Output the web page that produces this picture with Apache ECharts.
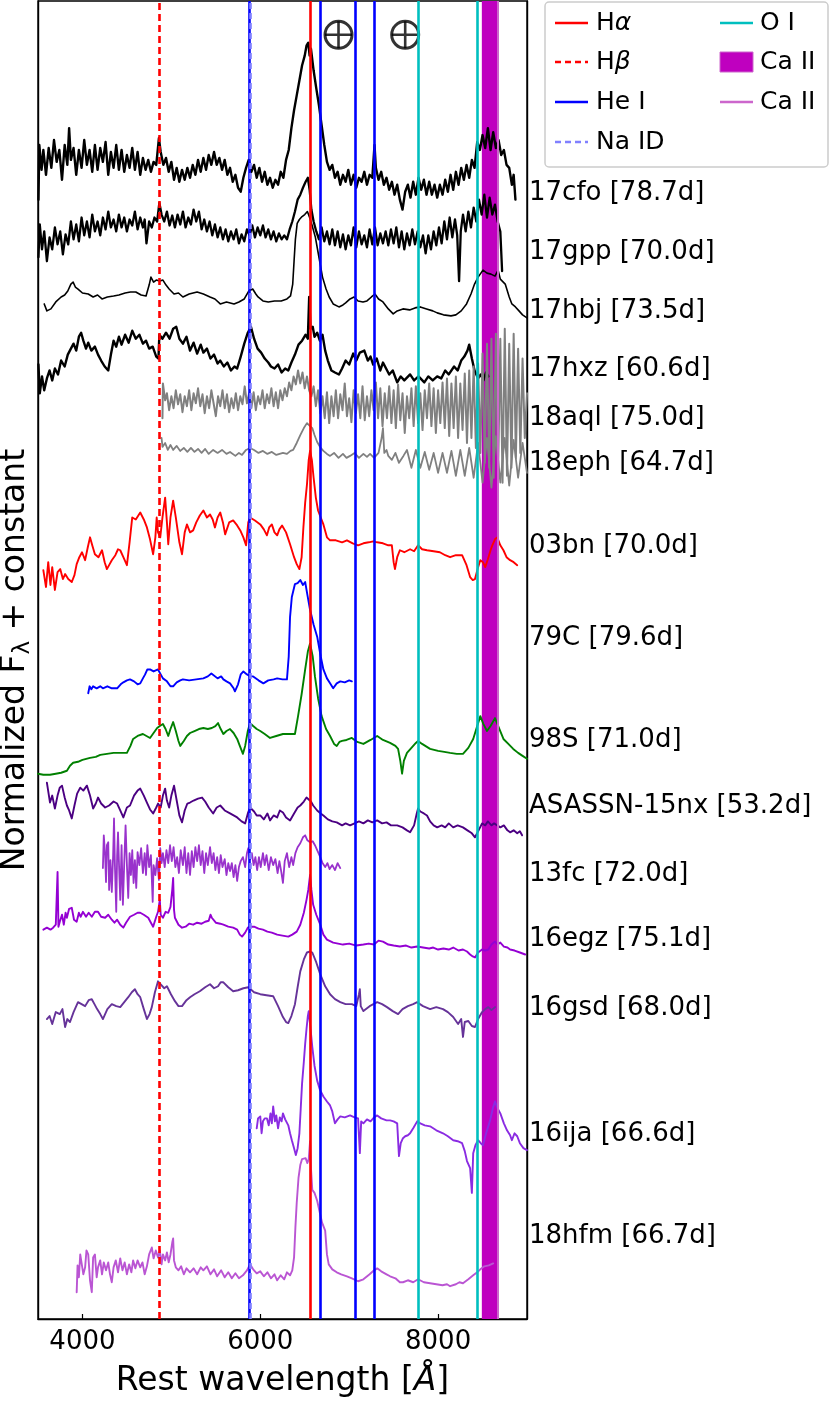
<!DOCTYPE html>
<html>
<head>
<meta charset="utf-8">
<script src="https://cdn.jsdelivr.net/npm/echarts@6.0.0/dist/echarts.min.js"></script>
<style>
  html, body { margin: 0; padding: 0; background: #fff; }
  #chart { width: 830px; height: 1403px; }
</style>
</head>
<body>
<div id="chart"></div>
<script>
// x ticks and the labels on the right (offset of each spectrum)
var xTicks = [4000, 6000, 8000];
var labelNames = ['17cfo [78.7d]', '17gpp [70.0d]', '17hbj [73.5d]', '17hxz [60.6d]', '18aql [75.0d]', '18eph [64.7d]',
  '03bn [70.0d]', '79C [79.6d]', '98S [71.0d]', 'ASASSN-15nx [53.2d]', '13fc [72.0d]', '16egz [75.1d]',
  '16gsd [68.0d]', '16ija [66.6d]', '18hfm [66.7d]'];
var labelPos = [11.33, 10.74, 10.15, 9.56, 9.07, 8.62, 7.78, 6.85, 5.83, 5.16, 4.48, 3.82, 3.13, 1.86, 0.83];

// line identifications (rest wavelength, A)
var lineHa = [6563];
var lineHb = [4861];
var lineHeI = [5876, 6678, 7065, 7281];
var lineNaD = [5890];
var lineOI = [7774, 8446];
var bandCaII = [8492, 8668];
var lineCaII = [8670];
var telluric = [[6880, 12.93], [7630, 12.93]];

// spectra: [wavelength, normalized flux + constant]
var sn17cfo = [[3505,11.27],[3515,11.82],[3540,11.57],[3560,11.77],[3590,11.52],[3620,11.79],[3650,11.59],[3680,11.87],[3710,11.65],[3740,11.77],[3770,11.47],[3800,11.82],[3830,11.62],[3850,11.99],[3870,11.67],[3900,11.79],[3930,11.52],[3960,11.77],[3990,11.59],[4020,11.87],[4050,11.62],[4080,11.77],[4110,11.55],[4140,11.82],[4170,11.57],[4200,11.79],[4230,11.65],[4260,11.85],[4290,11.52],[4320,11.75],[4350,11.59],[4380,11.82],[4410,11.57],[4440,11.77],[4470,11.55],[4500,11.72],[4530,11.59],[4560,11.79],[4590,11.57],[4620,11.75],[4650,11.52],[4680,11.69],[4710,11.57],[4740,11.67],[4770,11.55],[4800,11.65],[4830,11.62],[4860,11.89],[4880,11.75],[4910,11.62],[4940,11.69],[4970,11.55],[5000,11.65],[5030,11.47],[5060,11.59],[5090,11.45],[5120,11.57],[5150,11.47],[5180,11.59],[5210,11.49],[5240,11.62],[5270,11.52],[5300,11.67],[5330,11.55],[5360,11.69],[5390,11.57],[5420,11.72],[5450,11.62],[5480,11.75],[5510,11.62],[5540,11.69],[5570,11.57],[5600,11.67],[5630,11.52],[5660,11.59],[5690,11.45],[5720,11.52],[5750,11.39],[5780,11.35],[5810,11.49],[5840,11.59],[5870,11.67],[5900,11.55],[5930,11.62],[5960,11.49],[5990,11.59],[6020,11.45],[6050,11.55],[6080,11.42],[6110,11.49],[6140,11.39],[6170,11.47],[6200,11.42],[6230,11.55],[6260,11.49],[6290,11.67],[6320,11.77],[6350,11.99],[6380,12.17],[6410,12.32],[6440,12.47],[6470,12.62],[6500,12.72],[6520,12.82],[6540,12.85],[6555,12.72],[6570,12.79],[6600,12.57],[6630,12.39],[6660,12.22],[6690,12.02],[6720,11.82],[6750,11.65],[6780,11.57],[6810,11.62],[6840,11.49],[6870,11.55],[6900,11.42],[6930,11.52],[6960,11.45],[6990,11.57],[7020,11.42],[7050,11.52],[7080,11.39],[7110,11.49],[7140,11.45],[7170,11.55],[7200,11.42],[7230,11.52],[7260,11.49],[7285,11.82],[7300,11.59],[7330,11.47],[7360,11.55],[7390,11.42],[7420,11.49],[7450,11.37],[7480,11.45],[7510,11.32],[7540,11.42],[7570,11.27],[7600,11.17],[7630,11.35],[7660,11.42],[7690,11.29],[7720,11.45],[7750,11.32],[7780,11.49],[7810,11.37],[7840,11.47],[7870,11.32],[7900,11.45],[7930,11.32],[7960,11.42],[7990,11.29],[8020,11.42],[8050,11.32],[8080,11.47],[8110,11.35],[8140,11.52],[8170,11.37],[8200,11.55],[8230,11.42],[8260,11.59],[8290,11.47],[8320,11.62],[8350,11.49],[8380,11.67],[8410,11.59],[8440,11.85],[8470,11.77],[8500,11.92],[8530,11.79],[8560,11.99],[8590,11.77],[8620,11.95],[8650,11.79],[8680,11.87],[8710,11.72],[8740,11.77],[8770,11.62],[8800,11.59],[8830,11.42],[8850,11.52],[8870,11.27]];

var sn17gpp = [[3505,10.69],[3520,11.02],[3545,10.77],[3570,10.95],[3600,10.65],[3630,10.89],[3660,10.77],[3690,10.99],[3720,10.82],[3750,10.95],[3780,10.72],[3810,10.92],[3840,10.82],[3870,11.05],[3900,10.87],[3930,11.02],[3960,10.85],[3990,11.09],[4020,10.91],[4050,11.05],[4080,10.89],[4110,11.12],[4140,10.95],[4170,11.05],[4200,10.91],[4230,11.09],[4260,10.97],[4290,11.15],[4320,10.99],[4350,11.07],[4380,10.95],[4410,11.12],[4440,10.99],[4470,11.09],[4500,10.95],[4530,11.07],[4560,11.01],[4590,11.15],[4620,10.97],[4650,11.09],[4680,10.99],[4700,11.07],[4720,10.83],[4750,11.05],[4780,10.99],[4810,11.09],[4840,11.05],[4865,11.24],[4890,11.12],[4920,11.05],[4950,11.15],[4980,11.01],[5010,11.11],[5040,10.99],[5070,11.12],[5100,11.02],[5130,11.15],[5160,10.99],[5190,11.09],[5220,11.02],[5250,11.17],[5280,11.05],[5310,11.15],[5340,10.97],[5370,11.07],[5400,10.95],[5430,11.05],[5460,10.91],[5490,11.02],[5520,10.89],[5550,10.99],[5580,10.87],[5610,10.97],[5640,10.85],[5670,10.95],[5700,10.87],[5730,10.97],[5760,10.83],[5790,10.92],[5820,10.85],[5850,10.97],[5880,10.91],[5910,11.01],[5940,10.89],[5970,10.99],[6000,10.91],[6030,11.01],[6060,10.89],[6090,10.97],[6120,10.87],[6150,10.95],[6180,10.85],[6210,10.93],[6240,10.87],[6270,10.91],[6300,10.87],[6330,10.97],[6360,11.05],[6390,11.15],[6420,11.27],[6450,11.32],[6480,11.39],[6510,11.45],[6535,11.49],[6555,11.37],[6575,11.17],[6600,11.05],[6630,10.95],[6660,10.87],[6690,10.99],[6720,10.85],[6750,10.95],[6780,10.82],[6810,10.97],[6840,10.81],[6870,10.95],[6900,10.79],[6930,10.92],[6960,10.77],[6990,10.91],[7020,10.81],[7050,10.99],[7080,10.79],[7110,10.95],[7140,10.82],[7170,10.91],[7200,10.79],[7230,10.97],[7260,10.82],[7290,10.99],[7320,10.81],[7350,10.93],[7380,10.83],[7410,10.95],[7440,10.81],[7470,10.97],[7500,10.83],[7530,10.99],[7560,10.79],[7590,10.95],[7620,10.77],[7650,10.93],[7680,10.81],[7710,10.97],[7740,10.82],[7770,10.95],[7800,10.79],[7830,10.91],[7860,10.73],[7890,10.91],[7920,10.77],[7950,10.95],[7980,10.81],[8010,10.99],[8040,10.83],[8070,11.05],[8100,10.87],[8130,11.09],[8160,10.89],[8190,11.07],[8215,10.91],[8236,10.45],[8255,10.95],[8280,11.12],[8310,10.95],[8340,11.15],[8370,10.99],[8400,11.19],[8430,11.05],[8460,11.27],[8490,11.12],[8520,11.32],[8550,11.09],[8580,11.29],[8610,11.12],[8640,11.22],[8670,11.05],[8700,10.95],[8720,10.55]];

var sn17hbj = [[3570,10.22],[3600,10.15],[3645,10.17],[3700,10.24],[3760,10.29],[3800,10.31],[3835,10.35],[3870,10.42],[3895,10.44],[3920,10.39],[3950,10.37],[4000,10.33],[4065,10.32],[4120,10.29],[4170,10.31],[4220,10.27],[4280,10.29],[4350,10.30],[4410,10.31],[4480,10.33],[4540,10.34],[4600,10.34],[4660,10.31],[4715,10.30],[4750,10.41],[4770,10.49],[4800,10.44],[4830,10.46],[4870,10.45],[4905,10.46],[4940,10.41],[4975,10.37],[5030,10.32],[5080,10.33],[5130,10.29],[5200,10.32],[5290,10.34],[5360,10.32],[5435,10.29],[5490,10.27],[5550,10.22],[5620,10.24],[5705,10.22],[5760,10.24],[5820,10.27],[5870,10.35],[5915,10.37],[5950,10.32],[5975,10.29],[6030,10.25],[6090,10.24],[6160,10.25],[6235,10.25],[6300,10.27],[6340,10.30],[6365,10.42],[6380,10.65],[6395,10.87],[6415,11.03],[6440,11.07],[6470,11.10],[6500,11.12],[6530,11.15],[6555,11.09],[6580,11.02],[6620,10.89],[6660,10.69],[6700,10.49],[6740,10.37],[6775,10.29],[6820,10.22],[6885,10.19],[6930,10.21],[6960,10.23],[7010,10.27],[7055,10.29],[7100,10.25],[7155,10.24],[7200,10.25],[7250,10.29],[7290,10.32],[7330,10.27],[7380,10.24],[7440,10.17],[7495,10.12],[7540,10.15],[7605,10.17],[7680,10.16],[7740,10.18],[7800,10.19],[7870,10.17],[7940,10.15],[7990,10.13],[8060,10.11],[8145,10.10],[8200,10.11],[8260,10.15],[8320,10.22],[8370,10.32],[8410,10.42],[8450,10.49],[8505,10.56],[8550,10.53],[8595,10.52],[8640,10.50],[8675,10.56],[8700,10.47],[8755,10.42],[8800,10.29],[8830,10.22],[8870,10.19],[8910,10.15],[8950,10.11],[9000,10.08]];

var sn17hxz = [[3505,9.61],[3520,9.32],[3545,9.49],[3570,9.35],[3600,9.47],[3630,9.55],[3660,9.45],[3690,9.57],[3725,9.51],[3760,9.65],[3800,9.59],[3835,9.71],[3870,9.77],[3900,9.82],[3930,9.75],[3960,9.89],[3985,9.93],[4010,9.85],[4040,9.77],[4065,9.83],[4100,9.75],[4140,9.79],[4175,9.71],[4210,9.65],[4250,9.59],[4290,9.55],[4320,9.71],[4350,9.85],[4380,9.79],[4410,9.89],[4440,9.81],[4480,9.91],[4520,9.83],[4560,9.95],[4600,9.87],[4640,9.91],[4680,9.82],[4715,9.85],[4750,9.77],[4790,9.79],[4830,9.69],[4855,9.67],[4865,9.91],[4900,9.87],[4940,9.93],[4980,9.87],[5020,9.97],[5055,9.99],[5090,9.87],[5130,9.82],[5170,9.89],[5210,9.75],[5250,9.83],[5290,9.72],[5330,9.81],[5360,9.73],[5400,9.77],[5440,9.67],[5480,9.71],[5520,9.62],[5550,9.65],[5590,9.59],[5630,9.63],[5670,9.55],[5710,9.59],[5740,9.57],[5780,9.69],[5820,9.82],[5860,9.93],[5895,9.99],[5930,9.87],[5970,9.77],[6010,9.73],[6050,9.67],[6090,9.63],[6120,9.59],[6160,9.57],[6200,9.61],[6240,9.53],[6280,9.57],[6315,9.55],[6350,9.63],[6390,9.71],[6430,9.81],[6470,9.85],[6510,9.91],[6535,9.87],[6550,10.29],[6565,9.97],[6590,9.99],[6610,9.89],[6640,9.93],[6670,9.85],[6700,9.91],[6730,9.75],[6760,9.65],[6800,9.55],[6840,9.53],[6885,9.51],[6920,9.57],[6960,9.65],[7000,9.61],[7045,9.72],[7080,9.65],[7120,9.73],[7170,9.75],[7210,9.65],[7240,9.69],[7270,9.61],[7310,9.67],[7350,9.55],[7380,9.63],[7415,9.57],[7450,9.51],[7490,9.55],[7540,9.43],[7580,9.49],[7620,9.45],[7685,9.51],[7730,9.45],[7780,9.49],[7845,9.43],[7890,9.49],[7940,9.45],[7990,9.49],[8035,9.47],[8080,9.55],[8120,9.51],[8180,9.59],[8220,9.55],[8260,9.65],[8295,9.69],[8330,9.75],[8350,9.81],[8380,9.67],[8410,9.55],[8450,9.47],[8480,9.51],[8510,9.45],[8540,9.53],[8565,9.49]];

var sn18aql = [[4900,9.07],[4905,9.42],[4930,9.25],[4950,9.32],[4975,9.15],[5000,9.29],[5025,9.17],[5050,9.35],[5075,9.21],[5100,9.31],[5125,9.13],[5150,9.29],[5175,9.19],[5200,9.35],[5225,9.15],[5250,9.32],[5275,9.22],[5300,9.37],[5325,9.19],[5350,9.31],[5375,9.12],[5400,9.29],[5425,9.17],[5450,9.35],[5475,9.22],[5500,9.09],[5525,9.29],[5550,9.19],[5575,9.35],[5600,9.17],[5625,9.31],[5650,9.13],[5675,9.27],[5700,9.17],[5725,9.32],[5750,9.15],[5775,9.29],[5800,9.21],[5825,9.39],[5850,9.22],[5875,9.32],[5900,9.17],[5925,9.33],[5950,9.15],[5975,9.29],[6000,9.21],[6025,9.35],[6050,9.17],[6075,9.31],[6100,9.22],[6125,9.37],[6150,9.19],[6175,9.33],[6200,9.17],[6225,9.35],[6250,9.25],[6275,9.37],[6300,9.29],[6325,9.43],[6350,9.35],[6375,9.49],[6400,9.41],[6425,9.55],[6450,9.42],[6475,9.53],[6500,9.37],[6525,9.49],[6550,9.35],[6575,9.29],[6600,9.39],[6625,9.19],[6650,9.35],[6675,9.12],[6700,9.29],[6725,9.07],[6750,9.33],[6775,9.02],[6800,9.29],[6825,9.09],[6850,9.35],[6875,9.07],[6900,9.31],[6925,9.15],[6950,9.42],[6975,9.09],[7000,9.27],[7025,9.03],[7050,9.35],[7075,9.12],[7100,9.31],[7125,9.07],[7150,9.39],[7175,9.05],[7200,9.29],[7225,9.09],[7250,9.35],[7275,9.15],[7300,9.43],[7325,9.07],[7350,9.37],[7375,8.99],[7400,9.32],[7425,9.07],[7450,9.39],[7475,9.02],[7500,9.35],[7525,8.97],[7550,9.41],[7575,9.05],[7600,9.32],[7625,8.92],[7650,9.29],[7675,9.07],[7700,9.37],[7725,8.99],[7750,9.39],[7775,9.02],[7800,9.32],[7825,8.95],[7850,9.35],[7875,9.07],[7900,9.42],[7925,8.99],[7950,9.37],[7975,8.92],[8000,9.35],[8025,9.02],[8050,9.43],[8075,8.97],[8100,9.47],[8125,8.89],[8150,9.42],[8175,8.97],[8200,9.49],[8225,8.87],[8250,9.42],[8275,8.95],[8300,9.52],[8325,8.82],[8350,9.55],[8375,8.87],[8400,9.59],[8425,8.77],[8450,9.62],[8475,8.72],[8500,9.72],[8525,8.62],[8550,9.82],[8575,8.57],[8600,9.87],[8625,8.47],[8650,9.92],[8675,8.52],[8700,9.87],[8725,8.42],[8750,9.97],[8775,8.49],[8800,9.82],[8825,8.57],[8850,9.92],[8875,8.67],[8900,9.77],[8925,8.72],[8950,9.67],[8975,8.87],[9000,9.32]];

var sn18eph = [[4890,8.87],[4900,8.78],[4930,8.82],[4960,8.75],[4990,8.80],[5020,8.75],[5060,8.79],[5100,8.74],[5140,8.77],[5180,8.73],[5220,8.77],[5260,8.73],[5300,8.76],[5340,8.72],[5380,8.76],[5420,8.71],[5470,8.75],[5520,8.72],[5570,8.75],[5620,8.71],[5660,8.73],[5720,8.69],[5760,8.72],[5795,8.70],[5840,8.75],[5885,8.77],[5930,8.75],[5980,8.72],[6030,8.74],[6080,8.71],[6130,8.73],[6180,8.70],[6255,8.72],[6300,8.71],[6340,8.74],[6370,8.75],[6410,8.82],[6450,8.90],[6490,8.97],[6525,9.02],[6560,8.99],[6585,8.97],[6610,8.90],[6640,8.83],[6680,8.77],[6710,8.74],[6750,8.71],[6785,8.69],[6830,8.72],[6880,8.67],[6930,8.71],[6970,8.67],[7010,8.69],[7060,8.72],[7110,8.67],[7160,8.71],[7200,8.68],[7235,8.71],[7280,8.67],[7330,8.72],[7365,8.87],[7380,8.97],[7395,8.72],[7420,8.75],[7440,8.69],[7480,8.65],[7520,8.72],[7560,8.62],[7610,8.69],[7650,8.75],[7700,8.57],[7750,8.75],[7800,8.57],[7850,8.73],[7900,8.55],[7950,8.72],[8000,8.52],[8050,8.72],[8100,8.52],[8150,8.74],[8200,8.49],[8250,8.75],[8300,8.49],[8350,8.77],[8400,8.47],[8450,8.82],[8500,8.42],[8550,8.87],[8600,8.37],[8650,8.89],[8700,8.42],[8750,8.87],[8800,8.39],[8850,8.85],[8900,8.47],[8950,8.82],[9000,8.52]];

var sn03bn = [[3560,7.54],[3590,7.37],[3615,7.62],[3640,7.39],[3660,7.57],[3690,7.34],[3720,7.52],[3750,7.55],[3780,7.45],[3805,7.50],[3840,7.45],[3880,7.42],[3910,7.49],[3935,7.60],[3965,7.67],[3995,7.72],[4030,7.64],[4060,7.77],[4085,7.87],[4110,7.79],[4140,7.70],[4180,7.67],[4220,7.74],[4250,7.62],[4275,7.55],[4300,7.59],[4330,7.64],[4370,7.69],[4400,7.75],[4425,7.74],[4460,7.67],[4500,7.59],[4530,7.82],[4560,8.07],[4600,8.05],[4650,8.12],[4690,8.05],[4725,7.97],[4760,7.85],[4795,7.70],[4820,7.87],[4835,8.07],[4850,7.92],[4875,7.87],[4900,8.07],[4930,8.27],[4950,8.02],[4965,7.80],[4990,8.07],[5020,8.24],[5050,8.07],[5090,7.82],[5120,7.70],[5150,7.92],[5175,8.00],[5210,7.92],[5245,7.94],[5280,8.02],[5320,8.09],[5360,8.14],[5400,8.07],[5435,8.10],[5465,8.05],[5490,7.97],[5520,8.07],[5550,8.12],[5580,8.02],[5605,7.90],[5650,8.02],[5695,8.04],[5740,7.99],[5775,7.94],[5810,7.87],[5840,7.79],[5865,8.02],[5885,8.07],[5940,8.04],[6000,8.00],[6040,7.95],[6075,7.89],[6100,7.97],[6130,8.00],[6160,7.92],[6190,7.89],[6215,7.95],[6245,7.99],[6290,7.92],[6335,7.80],[6380,7.67],[6410,7.60],[6440,7.55],[6465,7.67],[6485,7.97],[6505,8.22],[6525,8.40],[6545,8.65],[6560,8.74],[6580,8.65],[6600,8.47],[6625,8.27],[6650,8.14],[6680,8.07],[6710,8.00],[6750,7.87],[6785,7.84],[6850,7.84],[6920,7.82],[6975,7.84],[7040,7.81],[7100,7.79],[7160,7.81],[7220,7.82],[7270,7.83],[7315,7.82],[7380,7.81],[7440,7.79],[7480,7.79],[7500,7.62],[7515,7.55],[7540,7.67],[7570,7.74],[7620,7.72],[7685,7.75],[7730,7.73],[7775,7.79],[7820,7.75],[7875,7.74],[7950,7.73],[8020,7.72],[8080,7.69],[8135,7.67],[8200,7.69],[8270,7.69],[8320,7.59],[8360,7.47],[8390,7.44],[8415,7.45],[8450,7.57],[8475,7.64],[8505,7.62],[8530,7.57],[8560,7.65],[8590,7.74],[8610,7.79],[8640,7.85],[8665,7.87],[8700,7.79],[8735,7.74],[8770,7.67],[8810,7.64],[8850,7.62],[8890,7.59]];

var sn79C = [[4065,6.30],[4080,6.37],[4100,6.34],[4120,6.37],[4160,6.35],[4200,6.37],[4230,6.35],[4280,6.37],[4330,6.35],[4390,6.35],[4430,6.39],[4460,6.41],[4500,6.43],[4535,6.44],[4580,6.42],[4620,6.39],[4650,6.40],[4680,6.45],[4705,6.49],[4730,6.54],[4760,6.54],[4800,6.52],[4850,6.54],[4880,6.49],[4905,6.45],[4950,6.42],[4990,6.37],[5020,6.37],[5060,6.41],[5100,6.43],[5130,6.44],[5200,6.43],[5280,6.44],[5360,6.45],[5410,6.47],[5450,6.50],[5470,6.50],[5520,6.45],[5560,6.47],[5585,6.44],[5620,6.42],[5660,6.40],[5700,6.35],[5715,6.32],[5750,6.39],[5780,6.49],[5810,6.52],[5850,6.49],[5890,6.47],[5920,6.47],[5980,6.43],[6035,6.40],[6090,6.43],[6150,6.44],[6190,6.45],[6250,6.44],[6300,6.44],[6320,6.67],[6335,7.07],[6355,7.27],[6390,7.40],[6420,7.41],[6450,7.44],[6480,7.39],[6505,7.42],[6530,7.29],[6560,7.14],[6600,6.99],[6640,6.87],[6680,6.67],[6710,6.54],[6750,6.45],[6785,6.40],[6820,6.35],[6860,6.40],[6900,6.42],[6950,6.41],[7000,6.43],[7030,6.42]];

var sn98S = [[3500,5.49],[3560,5.48],[3635,5.48],[3700,5.49],[3760,5.50],[3825,5.52],[3860,5.57],[3895,5.60],[3950,5.61],[4000,5.63],[4085,5.65],[4150,5.66],[4200,5.68],[4275,5.69],[4350,5.70],[4420,5.70],[4500,5.70],[4540,5.77],[4570,5.84],[4620,5.87],[4680,5.89],[4720,5.87],[4760,5.85],[4800,5.90],[4840,5.95],[4870,5.97],[4905,5.99],[4935,5.94],[4965,5.87],[4990,5.94],[5020,6.01],[5050,5.92],[5080,5.82],[5100,5.77],[5140,5.82],[5175,5.87],[5210,5.90],[5260,5.92],[5310,5.94],[5360,5.95],[5410,5.94],[5455,5.95],[5495,5.97],[5525,6.00],[5555,5.94],[5585,5.89],[5620,5.92],[5660,5.94],[5700,5.90],[5740,5.84],[5770,5.77],[5805,5.69],[5830,5.77],[5860,5.92],[5885,6.00],[5920,5.97],[5960,5.94],[6000,5.92],[6050,5.89],[6110,5.85],[6180,5.87],[6255,5.89],[6330,5.89],[6390,5.89],[6425,6.07],[6465,6.29],[6505,6.54],[6535,6.72],[6560,6.80],[6590,6.67],[6615,6.47],[6650,6.25],[6690,6.07],[6740,5.94],[6785,5.87],[6830,5.79],[6860,5.77],[6890,5.81],[6920,5.82],[6970,5.83],[7030,5.85],[7090,5.81],[7160,5.79],[7240,5.83],[7315,5.87],[7380,5.83],[7460,5.80],[7520,5.77],[7550,5.74],[7575,5.62],[7595,5.49],[7615,5.62],[7650,5.70],[7700,5.75],[7750,5.80],[7775,5.82],[7820,5.79],[7910,5.74],[8000,5.72],[8070,5.71],[8135,5.70],[8210,5.69],[8280,5.69],[8340,5.75],[8395,5.84],[8440,5.97],[8475,6.07],[8510,5.99],[8550,5.92],[8590,5.97],[8640,6.05],[8690,5.94],[8735,5.84],[8790,5.79],[8845,5.74],[8900,5.70],[8950,5.67],[9000,5.64]];

var snASASSN15nx = [[3600,5.40],[3635,5.20],[3660,5.27],[3690,5.14],[3720,5.27],[3745,5.35],[3770,5.37],[3800,5.25],[3825,5.17],[3850,5.12],[3880,5.04],[3910,5.17],[3940,5.29],[3975,5.35],[4010,5.32],[4050,5.37],[4085,5.27],[4120,5.14],[4150,5.19],[4175,5.25],[4210,5.19],[4255,5.15],[4300,5.17],[4350,5.21],[4390,5.19],[4425,5.12],[4460,5.05],[4500,5.15],[4535,5.17],[4580,5.27],[4620,5.32],[4650,5.34],[4690,5.27],[4725,5.20],[4760,5.13],[4795,5.09],[4830,5.15],[4850,5.19],[4880,5.15],[4905,5.27],[4930,5.34],[4950,5.22],[4975,5.15],[5000,5.27],[5030,5.37],[5060,5.22],[5090,5.07],[5120,5.00],[5150,5.12],[5180,5.19],[5210,5.20],[5250,5.22],[5300,5.24],[5345,5.25],[5380,5.21],[5420,5.15],[5470,5.09],[5510,5.15],[5550,5.17],[5600,5.12],[5660,5.09],[5700,5.07],[5740,5.05],[5790,5.01],[5830,4.99],[5860,5.09],[5885,5.15],[5930,5.11],[5960,5.07],[6000,5.07],[6040,5.03],[6080,5.09],[6110,5.02],[6150,5.07],[6190,5.05],[6220,5.12],[6255,5.10],[6290,5.05],[6335,5.02],[6380,5.09],[6420,5.15],[6450,5.17],[6490,5.21],[6520,5.25],[6540,5.24],[6570,5.21],[6595,5.17],[6640,5.12],[6680,5.09],[6710,5.07],[6760,5.03],[6810,5.01],[6860,5.00],[6920,4.97],[6960,4.99],[7010,4.97],[7060,4.99],[7110,5.01],[7160,4.99],[7210,5.02],[7260,5.00],[7315,5.02],[7370,4.99],[7420,5.00],[7470,4.97],[7540,4.97],[7600,4.95],[7650,4.92],[7685,4.90],[7730,4.97],[7760,5.09],[7775,5.14],[7800,5.11],[7840,5.09],[7875,5.07],[7910,5.01],[7950,4.97],[7990,4.95],[8040,4.97],[8080,4.95],[8120,4.99],[8170,4.95],[8220,4.97],[8280,4.95],[8330,4.92],[8380,4.89],[8415,4.85],[8450,4.91],[8495,4.99],[8530,4.97],[8560,5.01],[8600,4.97],[8630,4.99],[8665,4.97],[8700,4.95],[8740,4.97],[8780,4.92],[8810,4.90],[8850,4.92],[8890,4.89],[8920,4.91],[8945,4.87]];

var sn13fc = [[4230,4.54],[4240,4.87],[4255,4.67],[4265,4.40],[4275,4.77],[4290,4.80],[4300,4.32],[4315,4.62],[4330,4.30],[4345,4.67],[4355,5.04],[4365,4.57],[4380,4.10],[4390,4.67],[4400,4.90],[4415,4.47],[4425,4.22],[4440,4.77],[4455,4.17],[4470,4.59],[4485,4.97],[4500,4.57],[4515,4.24],[4530,4.69],[4545,4.47],[4560,4.72],[4575,4.39],[4590,4.62],[4605,4.34],[4620,4.70],[4640,4.57],[4660,4.74],[4680,4.49],[4700,4.69],[4715,4.47],[4730,4.77],[4750,4.55],[4770,4.67],[4790,4.20],[4800,4.57],[4820,4.47],[4840,4.64],[4860,4.42],[4875,4.74],[4890,4.59],[4905,4.69],[4925,4.55],[4945,4.72],[4965,4.59],[4985,4.77],[5005,4.61],[5025,4.75],[5045,4.55],[5065,4.65],[5085,4.49],[5105,4.72],[5130,4.57],[5150,4.75],[5170,4.49],[5190,4.69],[5210,4.47],[5230,4.71],[5250,4.55],[5270,4.75],[5290,4.61],[5310,4.77],[5330,4.57],[5350,4.71],[5370,4.49],[5390,4.69],[5410,4.57],[5435,4.75],[5455,4.59],[5475,4.69],[5495,4.52],[5515,4.65],[5535,4.49],[5555,4.67],[5575,4.55],[5600,4.63],[5620,4.47],[5640,4.59],[5660,4.51],[5680,4.59],[5700,4.45],[5720,4.57],[5740,4.41],[5760,4.55],[5780,4.61],[5805,4.65],[5830,4.55],[5850,4.69],[5865,4.74],[5885,4.63],[5905,4.69],[5925,4.57],[5945,4.65],[5965,4.52],[5985,4.65],[6005,4.55],[6030,4.69],[6050,4.57],[6070,4.67],[6095,4.52],[6120,4.65],[6145,4.57],[6170,4.63],[6195,4.49],[6215,4.61],[6235,4.51],[6255,4.39],[6275,4.61],[6300,4.69],[6325,4.55],[6350,4.65],[6370,4.57],[6395,4.69],[6420,4.75],[6450,4.79],[6480,4.85],[6505,4.87],[6530,4.82],[6560,4.80],[6590,4.81],[6615,4.77],[6645,4.71],[6675,4.65],[6700,4.59],[6730,4.55],[6755,4.59],[6780,4.53],[6810,4.57],[6840,4.52],[6870,4.59],[6900,4.54]];

var sn16egz = [[3560,3.92],[3600,3.94],[3640,3.92],[3670,3.94],[3700,3.97],[3720,4.50],[3730,3.95],[3745,4.00],[3770,4.07],[3790,3.97],[3810,4.09],[3825,4.04],[3850,4.13],[3880,4.14],[3905,4.02],[3935,4.00],[3960,4.09],[3980,4.05],[4005,4.10],[4040,4.05],[4070,4.09],[4105,4.05],[4140,4.10],[4175,4.10],[4210,4.05],[4255,4.04],[4290,4.07],[4330,4.02],[4360,3.99],[4390,4.02],[4425,3.97],[4460,3.94],[4490,3.99],[4535,4.05],[4580,4.07],[4620,4.09],[4650,4.09],[4690,4.07],[4740,4.04],[4770,3.99],[4795,3.95],[4830,4.05],[4850,4.10],[4870,4.22],[4880,4.07],[4905,4.04],[4935,4.10],[4965,4.09],[4990,4.15],[5010,4.32],[5020,4.44],[5030,4.12],[5040,4.04],[5080,3.97],[5120,3.94],[5160,3.95],[5200,3.98],[5245,3.97],[5290,3.99],[5340,3.98],[5380,4.00],[5420,4.01],[5440,4.07],[5455,4.04],[5500,3.99],[5550,3.98],[5585,3.97],[5640,3.95],[5695,3.94],[5740,3.92],[5770,3.87],[5795,3.85],[5830,3.89],[5860,3.94],[5885,3.95],[5930,3.95],[5980,3.93],[6030,3.92],[6080,3.90],[6130,3.89],[6190,3.87],[6250,3.86],[6315,3.85],[6360,3.87],[6410,3.90],[6450,3.97],[6490,4.09],[6520,4.22],[6540,4.32],[6560,4.47],[6575,4.32],[6595,4.17],[6630,4.07],[6675,3.97],[6710,3.87],[6750,3.82],[6820,3.79],[6930,3.77],[7000,3.78],[7080,3.76],[7160,3.77],[7220,3.78],[7280,3.77],[7330,3.81],[7380,3.80],[7440,3.77],[7500,3.76],[7570,3.75],[7640,3.76],[7700,3.74],[7765,3.75],[7830,3.74],[7900,3.73],[7945,3.74],[8000,3.72],[8060,3.73],[8120,3.72],[8170,3.74],[8230,3.71],[8280,3.72],[8325,3.70],[8360,3.67],[8390,3.65],[8415,3.64],[8450,3.69],[8495,3.72],[8530,3.71],[8565,3.72],[8600,3.77],[8640,3.80],[8670,3.77],[8700,3.79],[8740,3.75],[8780,3.74],[8810,3.72],[8860,3.71],[8920,3.69],[8980,3.67]];

var sn16gsd = [[3600,3.02],[3630,3.05],[3660,2.97],[3700,3.09],[3745,3.07],[3775,3.12],[3805,2.94],[3830,3.02],[3860,2.99],[3900,3.09],[3950,3.19],[3990,3.17],[4030,3.15],[4070,3.21],[4105,3.22],[4135,3.17],[4165,3.12],[4200,3.07],[4230,3.02],[4280,3.12],[4330,3.17],[4380,3.15],[4425,3.14],[4470,3.19],[4515,3.24],[4555,3.29],[4590,3.32],[4620,3.27],[4650,3.24],[4690,3.12],[4725,3.02],[4755,3.07],[4780,3.14],[4815,3.29],[4850,3.40],[4880,3.37],[4920,3.33],[4950,3.35],[4995,3.27],[5040,3.20],[5080,3.15],[5120,3.15],[5170,3.21],[5210,3.24],[5260,3.27],[5320,3.30],[5380,3.34],[5435,3.37],[5480,3.33],[5525,3.35],[5555,3.39],[5585,3.39],[5640,3.34],[5695,3.30],[5750,3.31],[5810,3.33],[5865,3.34],[5930,3.29],[6000,3.27],[6070,3.26],[6145,3.25],[6200,3.15],[6255,3.04],[6290,2.99],[6315,2.98],[6350,3.05],[6390,3.17],[6420,3.34],[6450,3.50],[6490,3.62],[6525,3.69],[6560,3.70],[6585,3.69],[6630,3.59],[6675,3.47],[6730,3.35],[6785,3.27],[6840,3.22],[6900,3.19],[6960,3.17],[7030,3.17],[7080,3.15],[7110,3.27],[7120,3.32],[7130,3.15],[7160,3.10],[7230,3.15],[7315,3.19],[7370,3.17],[7425,3.14],[7490,3.10],[7550,3.07],[7600,3.12],[7660,3.15],[7720,3.17],[7765,3.19],[7830,3.15],[7910,3.12],[7980,3.14],[8055,3.12],[8110,3.09],[8170,3.04],[8225,2.97],[8260,3.02],[8280,2.84],[8300,2.99],[8340,3.00],[8380,2.95],[8415,2.94],[8450,3.02],[8495,3.09],[8530,3.12],[8565,3.14],[8600,3.11],[8640,3.14]];

var sn16ija = [[5960,1.92],[5975,2.02],[6000,2.04],[6015,1.87],[6030,1.99],[6050,2.02],[6075,2.02],[6095,1.95],[6115,2.07],[6130,1.97],[6145,2.14],[6165,1.99],[6180,2.05],[6200,1.92],[6220,2.03],[6240,1.99],[6255,2.07],[6280,2.01],[6300,1.99],[6315,1.95],[6335,1.87],[6355,1.80],[6380,1.72],[6400,1.65],[6420,1.72],[6440,1.87],[6455,2.12],[6470,2.37],[6490,2.59],[6505,2.77],[6520,2.92],[6535,3.05],[6545,3.10],[6560,2.97],[6585,2.74],[6610,2.55],[6640,2.40],[6670,2.31],[6710,2.24],[6750,2.19],[6785,2.15],[6810,2.09],[6840,1.97],[6870,2.01],[6900,2.04],[6950,2.03],[7010,2.05],[7060,2.03],[7100,2.02],[7120,1.67],[7135,1.99],[7160,1.97],[7200,2.01],[7240,1.99],[7280,2.03],[7315,2.05],[7360,2.02],[7420,2.00],[7460,2.00],[7500,1.99],[7540,1.97],[7560,1.64],[7580,1.77],[7605,1.82],[7630,1.84],[7660,1.85],[7685,1.87],[7720,1.92],[7765,1.99],[7800,1.97],[7850,1.95],[7910,1.94],[7980,1.90],[8055,1.87],[8110,1.84],[8170,1.80],[8220,1.79],[8270,1.77],[8300,1.69],[8325,1.59],[8360,1.52],[8380,1.27],[8395,1.67],[8420,1.75],[8450,1.80],[8480,1.77],[8505,1.75],[8540,1.87],[8585,2.00],[8615,2.12],[8640,2.19],[8670,2.12],[8700,2.07],[8740,1.97],[8775,1.90],[8810,1.85],[8830,1.80],[8860,1.87],[8890,1.84],[8920,1.77],[8960,1.72],[9000,1.70]];

var sn18hfm = [[3935,0.27],[3945,0.54],[3960,0.42],[3975,0.65],[3995,0.67],[4010,0.45],[4030,0.52],[4045,0.69],[4065,0.65],[4085,0.39],[4105,0.27],[4120,0.62],[4140,0.65],[4160,0.42],[4175,0.52],[4200,0.59],[4220,0.45],[4240,0.57],[4265,0.49],[4290,0.57],[4310,0.45],[4330,0.37],[4350,0.52],[4375,0.59],[4400,0.47],[4425,0.61],[4450,0.49],[4475,0.57],[4500,0.45],[4525,0.55],[4550,0.47],[4570,0.59],[4595,0.51],[4620,0.59],[4650,0.52],[4675,0.57],[4700,0.45],[4725,0.53],[4750,0.65],[4780,0.72],[4800,0.61],[4825,0.69],[4850,0.62],[4870,0.69],[4890,0.55],[4905,0.65],[4930,0.59],[4950,0.67],[4970,0.57],[4990,0.65],[5010,0.77],[5020,0.81],[5030,0.59],[5050,0.52],[5080,0.49],[5110,0.53],[5140,0.45],[5170,0.51],[5210,0.47],[5250,0.51],[5290,0.45],[5330,0.52],[5360,0.49],[5400,0.53],[5440,0.45],[5480,0.50],[5515,0.43],[5560,0.49],[5600,0.42],[5640,0.47],[5680,0.41],[5720,0.46],[5760,0.41],[5805,0.44],[5850,0.49],[5885,0.55],[5920,0.50],[5960,0.46],[6000,0.48],[6040,0.43],[6080,0.47],[6120,0.41],[6160,0.45],[6190,0.39],[6230,0.44],[6270,0.40],[6300,0.47],[6335,0.44],[6360,0.49],[6380,0.62],[6395,0.92],[6410,1.17],[6430,1.42],[6450,1.55],[6470,1.61],[6490,1.59],[6510,1.62],[6530,1.57],[6545,1.61],[6560,1.79],[6570,1.52],[6585,1.30],[6610,1.27],[6640,1.19],[6670,1.07],[6695,0.97],[6730,0.89],[6750,0.65],[6770,0.55],[6810,0.50],[6860,0.47],[6910,0.45],[6975,0.43],[7030,0.41],[7100,0.38],[7160,0.40],[7230,0.45],[7280,0.49],[7315,0.51],[7360,0.48],[7420,0.45],[7460,0.43],[7520,0.41],[7570,0.37],[7605,0.37],[7660,0.39],[7720,0.37],[7775,0.40],[7840,0.37],[7910,0.36],[7980,0.35],[8050,0.34],[8100,0.35],[8135,0.33],[8200,0.35],[8240,0.37],[8280,0.36],[8340,0.40],[8395,0.44],[8440,0.47],[8475,0.50],[8520,0.53],[8570,0.54],[8620,0.56]];

var specData = [sn17cfo, sn17gpp, sn17hbj, sn17hxz, sn18aql, sn18eph, sn03bn, sn79C, sn98S,
  snASASSN15nx, sn13fc, sn16egz, sn16gsd, sn16ija, sn18hfm];
var specColors = ['#000000', '#000000', '#000000', '#000000', '#808080', '#808080', '#ff0000', '#0000ff',
  '#008000', '#4b0082', '#9932cc', '#9400d3', '#663399', '#8a2be2', '#ba55d3'];
var specWidths = [2.4, 2.3, 1.6, 2.4, 2, 1.8, 1.9, 1.9, 1.9, 1.9, 1.8, 1.9, 1.9, 1.9, 1.9];

var FONT = 'DejaVu Sans';
var myChart = echarts.init(document.getElementById('chart'));

// 竖线 (spectral lines)
function vlines(values, color, type, width) {
    return {
        type: 'line',
        data: [],
        z: 1,
        silent: true,
        markLine: {
            silent: true,
            symbol: ['none', 'none'],
            label: { show: false },
            animation: false,
            lineStyle: { color: color, type: type, width: width, opacity: 1 },
            data: values.map(function(v) { return { xAxis: v }; })
        }
    };
}

var series = [];
series.push({
    type: 'line',
    data: [],
    z: 1,
    silent: true,
    markArea: {
        silent: true,
        itemStyle: { color: '#bf00bf', opacity: 1 },
        data: [[{ xAxis: bandCaII[0] }, { xAxis: bandCaII[1] }]]
    }
});
series.push(vlines(lineCaII, '#cc66cc', 'solid', 2));
series.push(vlines(lineHb, '#ff0000', [7, 4], 2.6));
series.push(vlines(lineHeI, '#0000ff', 'solid', 2.6));
series.push(vlines(lineNaD, '#8080ff', [6, 4], 2.6));
series.push(vlines(lineHa, '#ff0000', 'solid', 2.6));
series.push(vlines(lineOI, '#00bfbf', 'solid', 2.6));

for (var i = 0; i < specData.length; i++) {
    series.push({
        type: 'line',
        data: specData[i],
        z: 3,
        showSymbol: false,
        symbol: 'none',
        silent: true,
        lineStyle: { color: specColors[i], width: specWidths[i], join: 'round', cap: 'round' }
    });
}

// telluric markers: circle with a cross
series.push({
    type: 'scatter',
    data: telluric,
    z: 4,
    silent: true,
    symbol: 'circle',
    symbolSize: 27,
    itemStyle: { color: 'rgba(0,0,0,0)', borderColor: '#000', borderWidth: 3 }
});
series.push({
    type: 'scatter',
    data: telluric,
    z: 4,
    silent: true,
    symbol: 'path://M14,0 L14,28 M0,14 L28,14',
    symbolSize: 27,
    itemStyle: { color: 'rgba(0,0,0,0)', borderColor: '#000', borderWidth: 2.6 }
});

// legend (drawn by hand, two columns)
var legendItems = [];
var lx1 = 555, lx2 = 720, rows = [23, 62, 102, 142];
function legLine(x, y, color, dash) {
    return { type: 'line', shape: { x1: x, y1: y, x2: x + 33, y2: y },
        style: { stroke: color, lineWidth: 2.6, lineDash: dash || null }, z: 101 };
}
function legText(x, y, txt) {
    return { type: 'text', x: x, y: y, z: 101,
        style: { text: txt, fontFamily: FONT, fontSize: 25, fill: '#000', verticalAlign: 'middle',
            rich: {
                n: { fontFamily: FONT, fontSize: 25 },
                g: { fontFamily: FONT, fontSize: 25, fontStyle: 'italic' }
            } } };
}
legendItems.push({ type: 'rect', shape: { x: 545, y: 2, width: 283, height: 165, r: 4 },
    style: { fill: 'rgba(255,255,255,0.8)', stroke: '#cccccc', lineWidth: 1.5 }, z: 100 });
legendItems.push(legLine(lx1, rows[0], '#ff0000'));
legendItems.push(legText(596, rows[0], '{n|H}{g|\u03b1}'));
legendItems.push(legLine(lx1, rows[1], '#ff0000', [6, 4]));
legendItems.push(legText(596, rows[1], '{n|H}{g|\u03b2}'));
legendItems.push(legLine(lx1, rows[2], '#0000ff'));
legendItems.push(legText(596, rows[2], 'He I'));
legendItems.push(legLine(lx1, rows[3], '#8080ff', [6, 4]));
legendItems.push(legText(596, rows[3], 'Na ID'));
legendItems.push(legLine(lx2, rows[0], '#00bfbf'));
legendItems.push(legText(760, rows[0], 'O I'));
legendItems.push({ type: 'rect', shape: { x: lx2, y: 52, width: 33, height: 20 },
    style: { fill: '#bf00bf', stroke: '#cc66cc', lineWidth: 1 }, z: 101 });
legendItems.push(legText(760, rows[1], 'Ca II'));
legendItems.push(legLine(lx2, rows[2], '#cc66cc'));
legendItems.push(legText(760, rows[2], 'Ca II'));

// y axis title, rotated
legendItems.push({
    type: 'text', x: 17, y: 660, rotation: Math.PI / 2, z: 50,
    style: {
        text: '{a|Normalized F}{b|\u03bb}{a| + constant}',
        align: 'center', verticalAlign: 'middle', fill: '#000',
        rich: {
            a: { fontFamily: FONT, fontSize: 33, verticalAlign: 'top', lineHeight: 36 },
            b: { fontFamily: FONT, fontSize: 23, verticalAlign: 'bottom', lineHeight: 23, padding: [17, 0, 0, 0] }
        }
    }
});

var option = {
    animation: false,
    backgroundColor: '#ffffff',
    grid: { left: 38, right: 303, top: 1, bottom: 76, show: true, borderColor: '#000', borderWidth: 1.4, backgroundColor: 'transparent' },
    xAxis: {
        type: 'value',
        min: 3500,
        max: 9000,
        splitLine: { show: false },
        axisLine: { show: true, lineStyle: { color: '#000', width: 1.4 } },
        axisTick: { show: true, inside: true, length: 5, customValues: xTicks, lineStyle: { color: '#000', width: 1.2 } },
        axisLabel: {
            customValues: xTicks, fontFamily: FONT, fontSize: 26, color: '#000', margin: 10,
            formatter: function(v) { return String(v); }
        },
        name: '{n|Rest wavelength [}{i|\u00c5}{n|]}',
        nameLocation: 'middle',
        nameGap: 46,
        nameTextStyle: {
            color: '#000', fontFamily: FONT, fontSize: 33,
            rich: { n: { fontFamily: FONT, fontSize: 33 }, i: { fontFamily: FONT, fontSize: 33, fontStyle: 'italic' } }
        }
    },
    yAxis: [{
        type: 'value',
        min: 0,
        max: 13.27,
        splitLine: { show: false },
        axisLine: { show: true, lineStyle: { color: '#000', width: 1.4 } },
        axisTick: { show: false },
        axisLabel: { show: false }
    }, {
        type: 'value',
        position: 'right',
        min: 0,
        max: 13.27,
        splitLine: { show: false },
        axisLine: { show: true, lineStyle: { color: '#000', width: 1.4 } },
        axisTick: { show: false },
        axisLabel: {
            customValues: labelPos,
            fontFamily: FONT,
            fontSize: 26,
            color: '#000',
            margin: 2,
            formatter: function(v) {
                var best = -1, d = 1e9;
                for (var k = 0; k < labelPos.length; k++) {
                    if (Math.abs(labelPos[k] - v) < d) { d = Math.abs(labelPos[k] - v); best = k; }
                }
                return d < 0.01 ? labelNames[best] : '';
            }
        }
    }],
    graphic: legendItems,
    series: series
};
myChart.setOption(option);
</script>
</body>
</html>
